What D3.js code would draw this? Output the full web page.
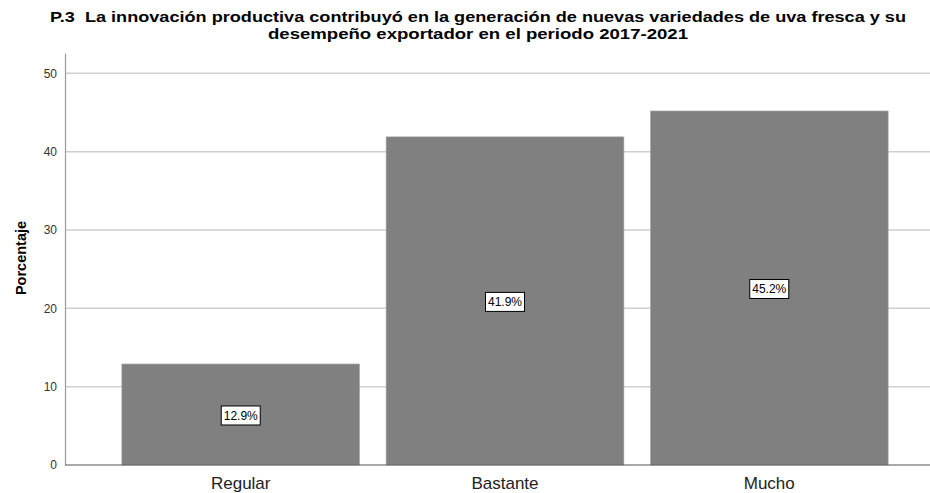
<!DOCTYPE html>
<html>
<head>
<meta charset="utf-8">
<script src="https://cdn.jsdelivr.net/npm/d3@7"></script>
<style>
  body { margin: 0; background: #fff; }
  text { font-family: "Liberation Sans", Arial, sans-serif; }
</style>
</head>
<body>
<div id="chart"></div>
<script>
// data
var categories = ["Regular", "Bastante", "Mucho"];
var percentages = [12.9, 41.9, 45.2];
var yTicks = [0, 10, 20, 30, 40, 50];
var titleLines = [
  "P.3  La innovación productiva contribuyó en la generación de nuevas variedades de uva fresca y su",
  "desempeño exportador en el periodo 2017-2021"
];
var titleWidths = [856, 420];

var svgWidth = 930;
var svgHeight = 493;

var svg = d3.select("#chart")
  .append("svg")
  .attr("width", svgWidth)
  .attr("height", svgHeight);

// scales
var xScale = d3.scaleBand()
  .domain(categories)
  .range([65, 945])
  .paddingInner(0.1)
  .paddingOuter(0.215);

var yScale = d3.scaleLinear()
  .domain([0, 52.6])
  .range([465, 53]);

// gridlines
svg.append("g")
  .selectAll("line")
  .data(yTicks.filter(d => d > 0))
  .enter()
  .append("line")
  .attr("x1", 65)
  .attr("x2", 930)
  .attr("y1", d => yScale(d))
  .attr("y2", d => yScale(d))
  .attr("stroke", "#cfcfcf")
  .attr("stroke-width", 1.5);

// y axis
var leftAxis = d3.axisLeft(yScale)
  .tickValues(yTicks)
  .tickSize(0)
  .tickPadding(8);

var yAxisG = svg.append("g")
  .attr("transform", "translate(65,0)")
  .call(leftAxis);
yAxisG.select(".domain").attr("stroke", "#9a9a9a").attr("stroke-width", 1.2);
yAxisG.selectAll("text")
  .attr("fill", "#333")
  .style("font-size", "12px")
  .style("font-family", "Liberation Sans, Arial, sans-serif");

// bars
svg.append("g")
  .selectAll("rect")
  .data(percentages)
  .enter()
  .append("rect")
  .attr("x", (d, i) => xScale(categories[i]))
  .attr("y", d => yScale(d))
  .attr("width", xScale.bandwidth())
  .attr("height", d => yScale(0) - yScale(d))
  .attr("fill", "#808080")
  .attr("stroke", "#b0b0b0")
  .attr("stroke-width", 0.6);

// baseline
svg.append("line")
  .attr("x1", 65)
  .attr("x2", 930)
  .attr("y1", yScale(0))
  .attr("y2", yScale(0))
  .attr("stroke", "#555")
  .attr("stroke-width", 1.2);

// value labels
var labels = svg.append("g")
  .selectAll("g")
  .data(percentages)
  .enter()
  .append("g")
  .attr("transform", (d, i) => `translate(${xScale(categories[i]) + xScale.bandwidth() / 2}, ${(yScale(d) + yScale(0)) / 2 + 1})`);

labels.append("rect")
  .attr("x", -19.5)
  .attr("y", -9.5)
  .attr("width", 39)
  .attr("height", 19)
  .attr("fill", "#fff")
  .attr("stroke", "#000")
  .attr("stroke-width", 1);

labels.append("text")
  .attr("text-anchor", "middle")
  .attr("dy", "0.36em")
  .style("font-size", "12px")
  .attr("fill", "#000")
  .text(d => d.toFixed(1) + "%");

// x category labels
svg.append("g")
  .selectAll("text")
  .data(categories)
  .enter()
  .append("text")
  .attr("x", d => xScale(d) + xScale.bandwidth() / 2)
  .attr("y", 489)
  .attr("text-anchor", "middle")
  .style("font-size", "17px")
  .attr("fill", "#222")
  .text(d => d);

// y axis title
svg.append("text")
  .attr("transform", "rotate(-90)")
  .attr("x", -258)
  .attr("y", 26)
  .attr("text-anchor", "middle")
  .style("font-size", "14.5px")
  .style("font-weight", "bold")
  .text("Porcentaje");

// title
svg.append("g")
  .selectAll("text")
  .data(titleLines)
  .enter()
  .append("text")
  .attr("x", 478)
  .attr("y", (d, i) => 22 + i * 17)
  .attr("text-anchor", "middle")
  .attr("textLength", (d, i) => titleWidths[i])
  .attr("lengthAdjust", "spacingAndGlyphs")
  .style("white-space", "pre")
  .style("font-size", "15.5px")
  .style("font-weight", "bold")
  .text(d => d);
</script>
</body>
</html>
